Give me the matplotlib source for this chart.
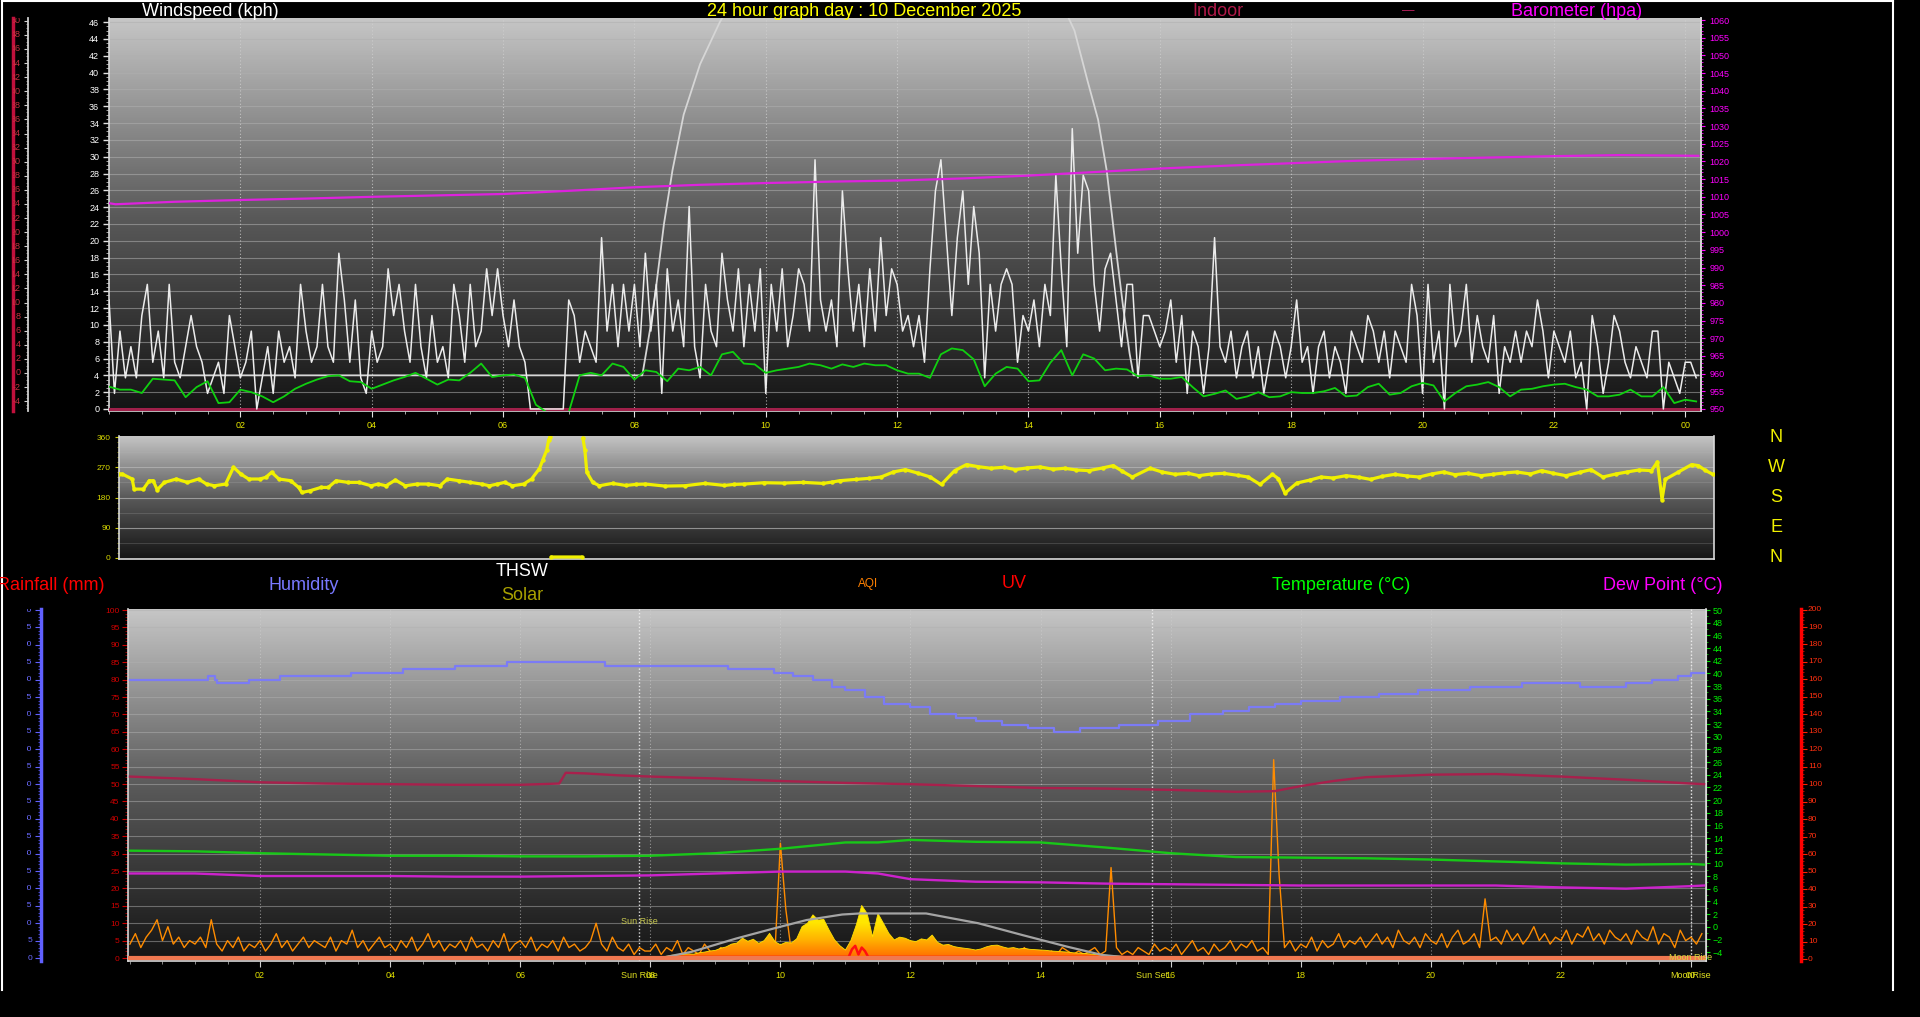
import numpy as np
import matplotlib
matplotlib.use("Agg")
import matplotlib.pyplot as plt
from matplotlib.colors import LinearSegmentedColormap
from matplotlib.lines import Line2D
from matplotlib.ticker import MultipleLocator
from matplotlib.transforms import blended_transform_factory

plt.rcParams['font.family'] = ['Liberation Sans', 'DejaVu Sans']

# ------------------------------------------------------------------ data
title_text = "24 hour graph day : 10 December 2025"
hour_ticks = [2, 4, 6, 8, 10, 12, 14, 16, 18, 20, 22, 24]
hour_labels = ["02", "04", "06", "08", "10", "12", "14", "16", "18", "20", "22", "00"]

# wind gust, 5-minute samples, in knots (shown in kph)
gust_knots = [
    7, 1, 5, 2, 4, 2, 6, 8, 3, 5, 2, 8,
    3, 2, 4, 6, 4, 3, 1, 2, 3, 1, 6, 4,
    2, 3, 5, 0, 2, 4, 1, 5, 3, 4, 2, 8,
    5, 3, 4, 8, 4, 3, 10, 7, 3, 7, 2, 1,
    5, 3, 4, 9, 6, 8, 5, 3, 8, 4, 2, 6,
    3, 4, 2, 8, 6, 3, 8, 4, 5, 9, 6, 9,
    6, 4, 7, 4, 3, 0, 0, 0, 0, 0, 0, 0,
    7, 6, 3, 5, 4, 3, 11, 5, 8, 4, 8, 5,
    8, 4, 10, 5, 8, 1, 9, 5, 7, 4, 13, 4,
    2, 8, 5, 4, 10, 7, 5, 9, 4, 8, 5, 9,
    1, 8, 5, 9, 4, 6, 9, 8, 5, 16, 7, 5,
    7, 4, 14, 9, 5, 8, 4, 9, 5, 11, 6, 9,
    8, 5, 6, 4, 6, 3, 9, 14, 16, 11, 6, 11,
    14, 8, 13, 10, 2, 8, 5, 8, 9, 8, 3, 6,
    5, 7, 4, 8, 6, 15, 9, 4, 18, 10, 15, 14,
    8, 5, 9, 10, 7, 4, 8, 8, 2, 6, 6, 5,
    4, 5, 7, 3, 6, 1, 5, 4, 1, 4, 11, 4,
    3, 5, 2, 4, 5, 2, 4, 1, 3, 5, 4, 2,
    4, 7, 3, 4, 1, 4, 5, 2, 4, 3, 1, 5,
    4, 3, 6, 5, 3, 5, 2, 5, 4, 3, 8, 6,
    1, 8, 3, 5, 0, 8, 4, 5, 8, 3, 6, 4,
    3, 6, 1, 4, 3, 5, 3, 5, 4, 7, 5, 2,
    5, 4, 3, 5, 2, 3, 0, 6, 4, 1, 3, 6,
    5, 3, 2, 4, 3, 2, 5, 5, 0, 3, 2, 1,
    3, 3, 2,
]
KNOT_TO_KPH = 1.852

# average wind speed, 10-minute samples, kph
wind_avg_kph = [
    2.65, 2.3, 2.3, 1.9, 3.6, 3.5, 3.4, 1.4, 2.6, 3.3, 0.7, 0.8,
    2.3, 2.0, 1.5, 0.8, 1.5, 2.4, 3.0, 3.5, 3.9, 4.0, 3.3, 3.2,
    2.4, 2.9, 3.4, 3.8, 4.3, 3.6, 2.9, 3.5, 3.4, 4.3, 5.4, 3.8,
    4.0, 4.1, 3.7, 0.5, -0.4, -0.4, -0.4, 4.0, 4.3, 4.0, 5.4, 5.0,
    3.5, 4.6, 4.4, 3.3, 4.8, 4.6, 5.0, 4.0, 6.5, 6.8, 5.4, 5.3,
    4.3, 4.6, 4.8, 5.0, 5.4, 5.2, 4.8, 5.3, 5.0, 5.4, 5.2, 5.2,
    4.6, 4.2, 4.2, 3.7, 6.5, 7.2, 7.0, 5.9, 2.7, 4.2, 5.0, 4.8,
    3.3, 3.4, 5.5, 7.0, 4.0, 6.5, 6.0, 4.6, 4.8, 4.7, 3.9, 4.0,
    3.6, 3.6, 3.8, 2.6, 1.5, 1.8, 2.2, 1.2, 1.5, 2.0, 1.4, 1.5,
    2.0, 1.9, 1.9, 2.1, 2.5, 1.5, 1.6, 2.6, 3.0, 1.7, 1.9, 2.7,
    3.1, 2.8, 0.9, 1.9, 2.7, 2.9, 3.2, 2.6, 1.5, 2.3, 2.4, 2.7,
    2.9, 3.0, 2.6, 2.3, 1.5, 1.5, 1.7, 2.3, 1.5, 1.5, 2.6, 0.7,
    1.1, 0.9,
]

# barometer (hPa)
baro_t = [0.0, 0.1, 1.0, 2.0, 3.0, 4.0, 5.0, 6.0, 7.0, 8.0, 9.0, 10.0, 11.0,
          12.0, 13.0, 14.0, 15.0, 16.0, 17.0, 18.0, 19.0, 20.0, 21.0, 22.0, 23.0, 24.2]
baro_hpa = [1008.2, 1007.9, 1008.6, 1009.1, 1009.5, 1010.0, 1010.4, 1010.8, 1011.7,
            1012.7, 1013.4, 1013.9, 1014.3, 1014.6, 1015.2, 1016.0, 1017.0, 1018.0,
            1018.8, 1019.5, 1020.2, 1020.7, 1021.1, 1021.5, 1021.8, 1021.6]

# light-grey curve in the wind panel
thsw_t = [0.0, 8.12, 8.25, 8.33, 8.45, 8.58, 8.75, 9.0, 9.3, 9.6, 10.5, 12.0,
          13.5, 14.4, 14.7, 14.9, 15.06, 15.19, 15.34, 15.44, 15.54, 15.6, 24.2]
thsw_v = [4.0, 4.0, 10.0, 14.5, 22.0, 28.4, 35.0, 41.0, 46.0, 50.0, 58.0, 62.0,
          58.0, 50.0, 45.0, 39.0, 34.4, 28.4, 18.5, 12.2, 6.6, 4.0, 4.0]
indoor_top_level = 0.0

# wind direction (degrees); nan separates unconnected runs
nan = float("nan")
dir_t = [0.0, 0.05, 0.2, 0.23, 0.37, 0.46, 0.52, 0.58, 0.69, 0.87, 1.04, 1.21, 1.33,
         1.45, 1.62, 1.74, 1.85, 1.97, 2.14, 2.23, 2.32, 2.43, 2.61, 2.73, 2.78, 2.9,
         3.07, 3.18, 3.3, 3.48, 3.65, 3.83, 3.94, 4.06, 4.2, 4.35, 4.53, 4.7, 4.88,
         4.99, 5.17, 5.34, 5.51, 5.63, 5.75, 5.86, 5.98, 6.15, 6.27, 6.39, 6.44, 6.5,
         6.53, 6.55, nan, 6.57, 7.03, nan, 7.05, 7.08, 7.11, 7.2, 7.3, 7.5, 7.7, 7.86,
         8.0, 8.3, 8.6, 8.9, 9.2, 9.35, 9.5, 9.8, 10.1, 10.4, 10.7, 10.84, 10.95,
         11.2, 11.4, 11.58, 11.77, 11.95, 12.15, 12.33, 12.5, 12.7, 12.88, 13.05, 13.25,
         13.45, 13.62, 13.8, 14.0, 14.2, 14.37, 14.55, 14.74, 14.95, 15.11, 15.25, 15.4,
         15.67, 15.85, 16.05, 16.25, 16.41, 16.6, 16.79, 17.0, 17.16, 17.34,
         17.53, 17.62, 17.72, 17.9, 18.1, 18.27, 18.45, 18.65, 18.85, 19.02, 19.2, 19.39,
         19.58, 19.76, 19.95, 20.13, 20.3, 20.5, 20.7, 20.88, 21.05,
         21.24, 21.45, 21.62, 21.8, 21.99, 22.2, 22.37, 22.55, 22.75, 22.92, 23.1, 23.29,
         23.38, 23.45, 23.5, 23.7, 23.9, 24.0, 24.1, 24.22]
dir_deg = [250, 250, 235, 205, 205, 230, 230, 203, 225, 235, 225, 235, 220,
           215, 220, 270, 250, 235, 235, 240, 255, 235, 230, 210, 195, 200,
           210, 210, 230, 225, 225, 215, 220, 215, 232, 215, 220, 220, 215,
           235, 230, 225, 220, 215, 220, 225, 215, 220, 235, 266, 291, 321,
           352, 360, nan, 3, 3, nan, 357, 321, 255, 225, 215, 222, 216, 219,
           220, 214, 215, 222, 216, 219, 220, 224, 223, 225, 222, 226, 230,
           234, 237, 241, 256, 263, 252, 241, 219, 260, 278, 272, 267,
           270, 263, 268, 271, 264, 267, 262, 260, 268, 275, 258, 241,
           267, 256, 249, 252, 245, 250, 252, 246, 241, 219,
           249, 236, 193, 223, 232, 241, 238, 245, 240, 234, 243, 249,
           244, 241, 250, 256, 248, 252, 245, 249, 253,
           256, 250, 260, 252, 245, 255, 263, 241, 250, 256, 262, 260,
           286, 174, 234, 256, 278, 275, 262, 249]
compass = ["N", "W", "S", "E", "N"]
compass_deg = [360, 270, 180, 90, 0]

# bottom panel
hum_t = [0.0, 1.2, 1.3, 1.34, 1.83, 2.3, 3.4, 4.2, 5.0, 5.8, 7.3, 9.2, 9.9, 10.2,
         10.5, 10.8, 11.0, 11.3, 11.6, 12.0, 12.3, 12.7, 13.0, 13.4, 13.8, 14.2,
         14.6, 15.2, 15.8, 16.3, 16.8, 17.2, 17.6, 18.0, 18.6, 19.2, 19.8, 20.6,
         21.4, 22.3, 23.0, 23.4, 23.8, 24.0, 24.2]
humidity = [80, 81, 80, 79, 80, 81, 82, 83, 84, 85, 84, 83, 82, 81,
            80, 78, 77, 75, 73, 72, 70, 69, 68, 67, 66, 65,
            66, 67, 68, 70, 71, 72, 73, 74, 75, 76, 77, 78,
            79, 78, 79, 80, 81, 82, 82]

temp_t = [0, 1, 2, 3, 4, 5, 6, 7, 8, 9, 10, 11, 11.5, 12, 13, 14, 15, 16, 17, 18,
          19, 20, 21, 22, 23, 24, 24.2]
temperature = [12.0, 11.9, 11.6, 11.4, 11.2, 11.2, 11.1, 11.1, 11.2, 11.6, 12.3, 13.3,
               13.3, 13.7, 13.4, 13.3, 12.5, 11.6, 11.0, 10.9, 10.8, 10.6, 10.3, 10.0,
               9.8, 9.9, 9.8]
dew_point = [8.4, 8.4, 8.0, 8.0, 8.0, 7.9, 7.9, 8.0, 8.1, 8.4, 8.7, 8.7, 8.4, 7.5,
             7.1, 7.0, 6.8, 6.7, 6.6, 6.5, 6.5, 6.5, 6.5, 6.2, 6.0, 6.4, 6.5]

indoor_t = [0, 1, 2, 3, 4, 5, 6, 6.6, 6.7, 7.0, 7.5, 8, 9, 10, 11, 12, 13, 14, 15,
            16, 17, 17.6, 18, 18.5, 19, 20, 21, 22, 23, 24, 24.2]
indoor_temp = [23.7, 23.3, 22.8, 22.6, 22.5, 22.4, 22.4, 22.6, 24.3, 24.2, 23.9, 23.7,
               23.4, 23.0, 22.7, 22.5, 22.2, 21.9, 21.8, 21.6, 21.3, 21.4, 22.2, 23.0,
               23.6, 24.0, 24.1, 23.7, 23.2, 22.6, 22.5]

# air quality index, 5-minute samples
aqi = [
    4, 7, 3, 6, 8, 11, 5, 9, 4, 6, 3, 5,
    4, 6, 3, 11, 4, 2, 5, 3, 6, 2, 4, 3,
    5, 2, 4, 7, 3, 5, 2, 4, 6, 3, 5, 4,
    3, 6, 2, 5, 4, 8, 3, 5, 2, 4, 6, 3,
    4, 2, 5, 3, 6, 2, 4, 7, 3, 5, 2, 4,
    3, 5, 2, 6, 3, 4, 2, 5, 3, 7, 2, 4,
    5, 3, 6, 2, 4, 3, 5, 2, 6, 3, 4, 2,
    3, 5, 10, 4, 2, 6, 3, 2, 4, 1, 3, 2,
    2, 4, 1, 3, 2, 5, 1, 3, 2, 1, 4, 2,
    1, 3, 2, 1, 4, 2, 1, 3, 2, 4, 1, 2,
    33, 14, 2, 1, 3, 1, 2, 4, 1, 2, 1, 3,
    1, 2, 1, 3, 2, 1, 2, 1, 3, 1, 2, 1,
    2, 1, 3, 1, 2, 1, 2, 3, 1, 2, 1, 2,
    1, 2, 1, 3, 1, 2, 1, 2, 1, 3, 1, 2,
    2, 1, 2, 1, 3, 2, 1, 2, 1, 2, 3, 1,
    2, 26, 3, 1, 2, 1, 3, 2, 1, 4, 2, 3,
    2, 4, 1, 3, 5, 2, 3, 1, 4, 2, 3, 5,
    2, 4, 3, 5, 2, 3, 1, 57, 24, 3, 5, 2,
    4, 3, 6, 2, 5, 3, 4, 7, 3, 5, 4, 6,
    3, 5, 7, 4, 6, 3, 8, 5, 4, 6, 3, 7,
    5, 4, 7, 3, 6, 8, 4, 5, 7, 3, 17, 5,
    6, 4, 8, 5, 7, 4, 6, 9, 5, 7, 4, 6,
    5, 8, 4, 7, 6, 9, 5, 7, 4, 8, 6, 5,
    7, 4, 8, 6, 5, 9, 4, 7, 6, 3, 8, 5,
    6, 4, 7,
]

# solar radiation (scaled), 5-minute samples starting 08:00
solar_start = 8.0
solar = [
    0, 0, 0.3, 0.5, 0.8, 0.9, 1.0, 1.2, 1.1, 1.5, 1.7, 2.0,
    2.2, 2.8, 3.2, 4.0, 4.3, 5.7, 4.8, 5.4, 4.2, 5.0, 7.1, 4.7,
    3.8, 4.5, 4.3, 5.5, 9.0, 10.0, 12.4, 10.9, 11.1, 8.0, 5.2, 3.5,
    2.3, 5.0, 9.5, 15.1, 12.8, 6.1, 12.8, 10.0, 7.1, 5.2, 6.0, 5.7,
    5.0, 4.7, 5.5, 5.2, 6.6, 4.5, 3.7, 3.9, 3.3, 3.0, 2.8, 2.6,
    2.3, 2.6, 3.2, 3.6, 3.7, 3.2, 2.8, 3.0, 2.6, 2.8, 2.5, 2.4,
    2.3, 2.2, 2.0, 1.9, 1.8, 1.7, 1.5, 1.4, 1.3, 1.2, 1.0, 0.9,
    0.8, 0.7, 0.6, 0.5, 0.4, 0.3, 0.2, 0.1, 0.0,
]
solarmax_t = [7.9, 8.16, 8.64, 9.32, 9.9, 10.4, 10.95, 11.22, 12.24, 13.04, 13.72,
              14.4, 14.94, 15.41, 15.7]
solarmax = [0, 0, 1.8, 5.6, 8.5, 10.9, 12.5, 12.8, 12.8, 10.0, 6.6, 3.3, 0.9, 0, 0]
uv_t = [8.3, 11.05, 11.1, 11.15, 11.2, 11.25, 11.3, 11.35, 15.6]
uv = [0.3, 0.3, 2.5, 3.5, 1.0, 3.0, 2.0, 0.3, 0.3]
rain_t = [0.0, 24.2]
rain_mm = [0.0, 0.0]

sunrise_h = 7.83
sunset_h = 15.72
moonrise_h = 24.0

hum_axis_ticks = list(range(0, 101, 5))
indoor_axis_ticks = list(range(-4, 51, 2))
red_axis_ticks = list(range(0, 201, 10))

# ------------------------------------------------------------------ figure
W, H = 1920, 1017
fig = plt.figure(figsize=(W / 100, H / 100), dpi=100, facecolor="black")


def rect(x0, y0, x1, y1):
    return [x0 / W, 1 - y1 / H, (x1 - x0) / W, (y1 - y0) / H]


def fx(x):
    return x / W


def fy(y):
    return 1 - y / H


grad_cmap = LinearSegmentedColormap.from_list("bg", ["#141414", "#5a5a5a", "#c6c6c6"])


def grad_bg(ax):
    g = np.linspace(0, 1, 256).reshape(-1, 1)
    ax.imshow(g, cmap=grad_cmap, aspect="auto", extent=(0, 1, 0, 1),
              transform=ax.transAxes, origin="lower", zorder=0,
              interpolation="bilinear")


def style_spines(ax):
    for s in ["left", "bottom", "right"]:
        ax.spines[s].set_color("#d8d8d8")
        ax.spines[s].set_linewidth(1.2)
    ax.spines["top"].set_visible(False)


TICK_FS = 6.5
XLIM = (0.0, 24.24)

# ================= top panel: wind =================
ax1 = fig.add_axes(rect(109, 18, 1701, 411))
ax1.set_facecolor("black")
grad_bg(ax1)
style_spines(ax1)

gust_t = np.arange(len(gust_knots)) * 5 / 60
avg_t = np.arange(len(wind_avg_kph)) * 10 / 60
gust_kph = np.array(gust_knots) * KNOT_TO_KPH

for v in np.arange(2, 47, 2):
    ax1.axhline(v, color="#b0b0b0", lw=0.8, alpha=0.55, zorder=1)
for h in hour_ticks:
    ax1.axvline(h, color="#d0d0d0", lw=0.8, ls=(0, (1, 2)), alpha=0.8, zorder=1)

ax1.axhline(indoor_top_level, color="#a0204a", lw=2.2, zorder=3)
ax1.plot(thsw_t, thsw_v, color="#d6d6d6", lw=1.3, zorder=3)
ax1.plot(gust_t, gust_kph, color="#ececec", lw=1.1, zorder=4)
ax1.plot(avg_t, wind_avg_kph, color="#10d010", lw=1.3, zorder=5)

ax1.set_xlim(*XLIM)
ax1.set_ylim(-0.24, 46.49)
ax1.set_yticks(np.arange(0, 47, 2))
ax1.yaxis.set_minor_locator(MultipleLocator(0.5))
ax1.tick_params(axis="y", which="major", colors="#e0e0e0", labelcolor="white",
                labelsize=TICK_FS, length=4, width=1, pad=3, direction="out")
ax1.tick_params(axis="y", which="minor", colors="#c0c0c0", length=2, width=0.6)
ax1.set_xticks(hour_ticks)
ax1.set_xticklabels(hour_labels)
ax1.xaxis.set_minor_locator(MultipleLocator(0.5))
ax1.tick_params(axis="x", which="major", colors="#e0e0e0", labelcolor="#e8e800",
                labelsize=TICK_FS, length=4, pad=3)
ax1.tick_params(axis="x", which="minor", colors="#c0c0c0", length=2)

ax1b = ax1.twinx()
ax1b.plot(baro_t, baro_hpa, color="#dd22dd", lw=1.6, zorder=6)
ax1b.set_ylim(949.43, 1060.57)
ax1b.set_yticks(np.arange(950, 1061, 5))
ax1b.yaxis.set_minor_locator(MultipleLocator(1))
ax1b.tick_params(axis="y", which="major", colors="#ff00ff", labelcolor="#ff00ff",
                 labelsize=TICK_FS, length=3, pad=3)
ax1b.tick_params(axis="y", which="minor", colors="#ff00ff", length=1.5)
for s in ["top", "left", "bottom"]:
    ax1b.spines[s].set_visible(False)
ax1b.spines["right"].set_color("#d8d8d8")
ax1b.spines["right"].set_linewidth(1.2)

# far-left indoor axis (clipped labels)
axI = fig.add_axes(rect(13, 18, 28, 411))
axI.set_facecolor("none")
axI.set_ylim(-5.4, 50.4)
axI.set_xlim(0, 1)
axI.set_xticks([])
axI.spines["top"].set_visible(False)
axI.spines["bottom"].set_visible(False)
axI.spines["left"].set_color("#c0103c")
axI.spines["left"].set_linewidth(2.5)
axI.spines["right"].set_color("#d0d0d0")
axI.spines["right"].set_linewidth(1.3)
axI.yaxis.tick_right()
axI.set_yticks(indoor_axis_ticks)
axI.set_yticklabels([])
axI.yaxis.set_minor_locator(MultipleLocator(0.5))
axI.tick_params(axis="y", which="major", direction="in", colors="#d0d0d0", length=3)
axI.tick_params(axis="y", which="minor", direction="in", colors="#a0a0a0", length=1.5)
trI = blended_transform_factory(axI.transAxes, axI.transData)
for v in indoor_axis_ticks:
    axI.text(0.5, v, str(v), transform=trI, ha="right", va="center",
             fontsize=TICK_FS, color="#c83040", clip_on=True)

# ================= middle panel: wind direction =================
ax2 = fig.add_axes(rect(119, 436, 1714, 559))
ax2.set_facecolor("black")
grad_bg(ax2)
style_spines(ax2)
for v in [45, 90, 135, 180, 225, 270, 315]:
    ax2.axhline(v, color="#b8b8b8", lw=0.8 if v % 90 == 0 else 0.5,
                alpha=0.7 if v % 90 == 0 else 0.3, zorder=1)
ax2.plot(dir_t, dir_deg, color="#f0f000", lw=2.3, zorder=4,
         solid_capstyle="round", marker="o", ms=2.2, mec="#f0f000", mfc="#f0f000")
ax2.set_xlim(*XLIM)
ax2.set_ylim(-3, 363)
ax2.set_yticks([0, 90, 180, 270, 360])
ax2.yaxis.set_minor_locator(MultipleLocator(15))
ax2.tick_params(axis="y", which="major", colors="#c8c800", labelcolor="#d8d800",
                labelsize=6, length=3, pad=3)
ax2.tick_params(axis="y", which="minor", colors="#a0a000", length=1.5)
ax2.set_xticks([])
for lab, d in zip(compass, compass_deg):
    y_fig = ax2.transData.transform((0, d))[1] / H
    fig.text(fx(1776), y_fig, lab, color="#f0f000", fontsize=13,
             ha="center", va="center")

# ================= bottom panel =================
ax3 = fig.add_axes(rect(128, 609, 1706, 961))
ax3.set_facecolor("black")
grad_bg(ax3)
style_spines(ax3)
for v in np.arange(5, 101, 5):
    ax3.axhline(v, color="#b0b0b0", lw=0.8, alpha=0.5, zorder=1)
for h in hour_ticks:
    ax3.axvline(h, color="#d0d0d0", lw=0.8, ls=(0, (1, 2)), alpha=0.6, zorder=1)
for h in [sunrise_h, sunset_h, moonrise_h]:
    ax3.axvline(h, color="#f0f0f0", lw=1.0, ls=(0, (1, 1.5)), alpha=0.9, zorder=1)

ax3.plot(hum_t, humidity, color="#7b7bf5", lw=1.6, drawstyle="steps-post", zorder=5)
ax3.plot(rain_t, rain_mm, color="#f07850", lw=3, zorder=6)

aqi_t = np.arange(len(aqi)) * 5 / 60
ax3.plot(aqi_t, aqi, color="#ff8c00", lw=1.0, zorder=3)

solar_t = solar_start + np.arange(len(solar)) * 5 / 60
poly = ax3.fill_between(solar_t, 0, solar, color="none", lw=0, zorder=4)
sol_cmap = LinearSegmentedColormap.from_list("sol", ["#ff6a00", "#ffb000", "#ffe600", "#fff200"])
g2 = np.linspace(0, 1, 128).reshape(-1, 1)
img = ax3.imshow(g2, cmap=sol_cmap, aspect="auto", origin="lower",
                 extent=(solar_t[0], solar_t[-1], 0, max(solar)), zorder=4,
                 interpolation="bilinear")
img.set_clip_path(poly.get_paths()[0], transform=ax3.transData)
ax3.plot(solar_t, solar, color="#ffe000", lw=0.6, zorder=4)
ax3.plot(uv_t, uv, color="#ff1010", lw=1.8, zorder=5)
ax3.plot(solarmax_t, solarmax, color="#a4a4a4", lw=1.6, zorder=5)

ax3.set_xlim(-0.03, 24.23)
ax3.set_ylim(-0.86, 100.3)
ax3.set_yticks(np.arange(0, 101, 5))
ax3.yaxis.set_minor_locator(MultipleLocator(1))
ax3.tick_params(axis="y", which="major", colors="#d00000", labelcolor="#d00000",
                labelsize=6, length=4, pad=2)
ax3.tick_params(axis="y", which="minor", colors="#b00000", length=2)
ax3.set_xticks(hour_ticks)
ax3.set_xticklabels(hour_labels)
ax3.xaxis.set_minor_locator(MultipleLocator(0.5))
ax3.tick_params(axis="x", which="major", colors="#d0d0d0", labelcolor="#e0e000",
                labelsize=TICK_FS, length=4, pad=3)
ax3.tick_params(axis="x", which="minor", colors="#a0a0a0", length=2)

ax3t = ax3.twinx()
ax3t.plot(indoor_t, indoor_temp, color="#a8204c", lw=1.7, zorder=5)
ax3t.plot(temp_t, temperature, color="#18c818", lw=1.7, zorder=5)
ax3t.plot(temp_t, dew_point, color="#cc22cc", lw=1.7, zorder=5)
ax3t.set_ylim(-5.42, 50.16)
ax3t.set_yticks(np.arange(-4, 51, 2))
ax3t.yaxis.set_minor_locator(MultipleLocator(1))
ax3t.tick_params(axis="y", which="major", colors="#00e000", labelcolor="#00f000",
                 labelsize=TICK_FS, length=3, pad=2)
ax3t.tick_params(axis="y", which="minor", colors="#00c000", length=1.5)
for s in ["top", "left", "bottom"]:
    ax3t.spines[s].set_visible(False)
ax3t.spines["right"].set_color("#d8d8d8")

# labels for sun / moon events under the x axis
trx = blended_transform_factory(ax3.transData, fig.transFigure)
for h, s in [(sunrise_h, "Sun Rise"), (sunset_h, "Sun Set"), (moonrise_h, "MoonRise")]:
    ax3.text(h, fy(975), s, transform=trx, ha="center", va="center",
             fontsize=TICK_FS, color="#e0e020", clip_on=False)
ax3.text(sunrise_h, fy(922), "Sun Rise", transform=trx, ha="center", va="center",
         fontsize=TICK_FS, color="#c8c850", zorder=7)
ax3.text(moonrise_h, fy(957), "Moon Rise", transform=trx, ha="center", va="center",
         fontsize=TICK_FS, color="#d8d840", zorder=7)

# far-left humidity axis (clipped labels)
axH = fig.add_axes(rect(27, 609, 41, 961))
axH.set_facecolor("none")
axH.set_ylim(-0.86, 100.3)
axH.set_xlim(0, 1)
axH.set_xticks([])
for s in ["top", "bottom", "left"]:
    axH.spines[s].set_visible(False)
axH.spines["right"].set_color("#6060ff")
axH.spines["right"].set_linewidth(2.5)
axH.yaxis.tick_right()
axH.set_yticks(hum_axis_ticks)
axH.set_yticklabels([])
axH.yaxis.set_minor_locator(MultipleLocator(1))
axH.tick_params(axis="y", which="major", direction="in", colors="#6060ff", length=4)
axH.tick_params(axis="y", which="minor", direction="in", colors="#5050e0", length=2)
trH = blended_transform_factory(axH.transAxes, axH.transData)
for v in hum_axis_ticks:
    axH.text(0.36, v, str(v), transform=trH, ha="right", va="center",
             fontsize=6, color="#6a6aff", clip_on=True)

# far-right red axis
axR = fig.add_axes(rect(1801, 609, 1840, 961))
axR.set_facecolor("none")
axR.set_ylim(-1.1, 200.3)
axR.set_xlim(0, 1)
axR.set_xticks([])
for s in ["top", "bottom", "right"]:
    axR.spines[s].set_visible(False)
axR.spines["left"].set_color("#ff0000")
axR.spines["left"].set_linewidth(2.5)
axR.set_yticks(red_axis_ticks)
axR.set_yticklabels([])
axR.yaxis.set_minor_locator(MultipleLocator(2))
axR.tick_params(axis="y", which="major", direction="in", colors="#ff2000", length=4)
axR.tick_params(axis="y", which="minor", direction="in", colors="#c01000", length=2)
trR = blended_transform_factory(axR.transAxes, axR.transData)
for v in red_axis_ticks:
    axR.text(0.18, v, str(v), transform=trR, ha="left", va="center",
             fontsize=6, color="#ff3010")

# ================= header texts =================
hdr = 13
fig.text(fx(210), fy(11), "Windspeed (kph)", color="white", fontsize=hdr, ha="center", va="center")
fig.text(fx(864), fy(11), title_text, color="#ffff00", fontsize=hdr, ha="center", va="center")
fig.text(fx(1218), fy(11), "Indoor", color="#b01848", fontsize=hdr, ha="center", va="center")
fig.text(fx(1408), fy(11), "\u2014", color="#c02060", fontsize=9, ha="center", va="center")
fig.text(fx(1577), fy(11), "Barometer (hpa)", color="#ff00ff", fontsize=hdr, ha="center", va="center")

fig.text(fx(-3), fy(585), "Rainfall (mm)", color="#ff0000", fontsize=hdr, ha="left", va="center")
fig.text(fx(304), fy(585), "Humidity", color="#7878ff", fontsize=hdr, ha="center", va="center")
fig.text(fx(522), fy(572), "THSW", color="white", fontsize=hdr, ha="center", va="center")
fig.text(fx(522), fy(595), "Solar", color="#a8a000", fontsize=hdr, ha="center", va="center")
fig.text(fx(868), fy(584), "AQI", color="#ff8000", fontsize=8.5, ha="center", va="center")
fig.text(fx(1014), fy(584), "UV", color="#ff0000", fontsize=hdr, ha="center", va="center")
fig.text(fx(1341), fy(585), "Temperature (\u00b0C)", color="#00ff00", fontsize=hdr, ha="center", va="center")
fig.text(fx(1663), fy(585), "Dew Point (\u00b0C)", color="#ff00ff", fontsize=hdr, ha="center", va="center")

# white frame
for (x0, y0, x1, y1) in [(2, 1, 2, 990), (2, 1, 1893, 1), (1893, 1, 1893, 990)]:
    fig.add_artist(Line2D([fx(x0), fx(x1)], [fy(y0), fy(y1)], color="white", lw=1.5,
                          transform=fig.transFigure))

fig.savefig("out.png", dpi=100, facecolor="black")
